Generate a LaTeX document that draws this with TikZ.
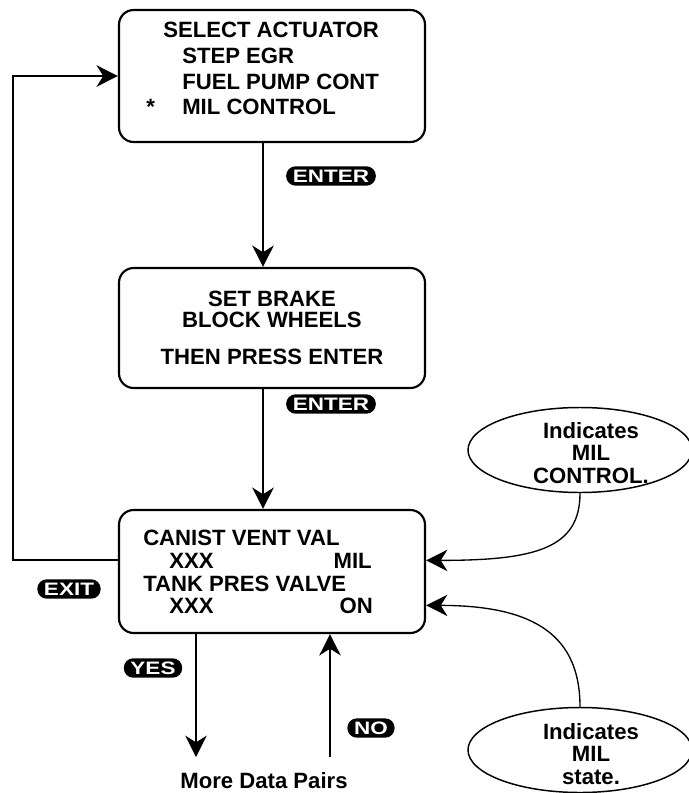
\documentclass[tikz,border=0pt]{standalone}
\usepackage{fontspec}
\setmainfont{Liberation Sans}
\usepackage{graphicx}
\usetikzlibrary{arrows.meta, shapes.geometric}

% key caps use a wide bold face
\newcommand{\keylabel}[1]{\scalebox{1.25}[1]{#1}}

\begin{document}
\begin{tikzpicture}[x=0.75pt, y=-0.75pt,
    screen/.style={draw, line width=1.6pt, rounded corners=11pt, minimum width=229.5pt, inner sep=0pt},
    lcd/.style={inner sep=0pt, font=\fontsize{16.6}{19}\selectfont\bfseries},
    pill/.style={fill=black, text=white, rounded corners=7pt, minimum height=14.5pt, inner xsep=5pt, inner ysep=0pt, font=\fontsize{13.5}{13.5}\selectfont\bfseries},
    flow/.style={line width=1.5pt, -{Stealth[length=16pt, width=16pt, inset=5pt]}},
    note/.style={draw, ellipse, line width=1.1pt, minimum width=168pt, minimum height=63.75pt, inner sep=0pt},
    notetext/.style={align=center, inner sep=0pt, font=\fontsize{16.6}{17}\selectfont\bfseries},
    pointer/.style={line width=1pt, -{Stealth[length=16pt, width=16pt, inset=5pt]}}]
    \useasboundingbox (0,0) rectangle (689,793);
    \coordinate (spine) at (263,0);

    % Actuator menu
    \node[screen, minimum height=99pt] (actuator) at (272,76) {};
    \node[lcd, anchor=base west] (select) at (163,37) {SELECT ACTUATOR};
    \node[lcd, anchor=base west] (stepegr) at (182,63) {STEP EGR};
    \node[lcd, anchor=base west] (fuelpump) at (182,89) {FUEL PUMP CONT};
    \node[lcd, anchor=base west] (milctl) at (182,114) {MIL CONTROL};
    \node[lcd, anchor=base west] (star) at (146,114) {*};

    % Safety prompt
    \node[screen, minimum height=90pt, align=center, font=\fontsize{16.6}{15.75}\selectfont\bfseries] (brake) at (272,328)
        {SET BRAKE\\BLOCK WHEELS\\[12pt]THEN PRESS ENTER};

    % Data pair screen
    \node[screen, minimum height=92.25pt] (pairs) at (272,571.5) {};
    \node[lcd, anchor=base west] (canist) at (143,545) {CANIST VENT VAL};
    \node[lcd, anchor=base west] (xxxa) at (169,568) {XXX};
    \node[lcd, anchor=base east] (mil) at (372,568) {MIL};
    \node[lcd, anchor=base west] (tank) at (143,591) {TANK PRES VALVE};
    \node[lcd, anchor=base west] (xxxb) at (169,613) {XXX};
    \node[lcd, anchor=base east] (on) at (373,613) {ON};

    \draw[flow] (actuator.south -| spine) -- (brake.north -| spine);
    \draw[flow] (brake.south -| spine) -- (pairs.north -| spine);
    \node[pill] (enterone) at (331,176) {\keylabel{ENTER}};
    \node[pill] (entertwo) at (331,404) {\keylabel{ENTER}};

    % Exit loop back to the menu
    \draw[flow] (pairs.west |- mil.center) -- ++(-105,0) |- (actuator.west);
    \node[pill] (exit) at (69,589) {\keylabel{EXIT}};

    % Yes / No
    \coordinate (yesend) at (196,757);
    \coordinate (nostart) at (330,757);
    \draw[flow] (pairs.south -| yesend) -- (yesend);
    \draw[flow] (nostart) -- (pairs.south -| nostart);
    \node[pill] (yes) at (153,668) {\keylabel{YES}};
    \node[pill] (no) at (371,728) {\keylabel{NO}};
    \node[lcd] (moredata) at (264,781) {More Data Pairs};

    % Callouts
    \node[note] (controlnote) at (580,450) {};
    \node[notetext] (controltext) at (591,453) {Indicates\\MIL\\CONTROL.};
    \node[note] (statenote) at (580,750) {};
    \node[notetext] (statetext) at (591,754) {Indicates\\MIL\\state.};
    \draw[pointer] (controlnote.south) .. controls +(0,55) and +(110,0) .. (pairs.east |- mil.center);
    \draw[pointer] (statenote.north) .. controls +(0,-70) and +(110,0) .. (pairs.east |- on.center);
\end{tikzpicture}
\end{document}
